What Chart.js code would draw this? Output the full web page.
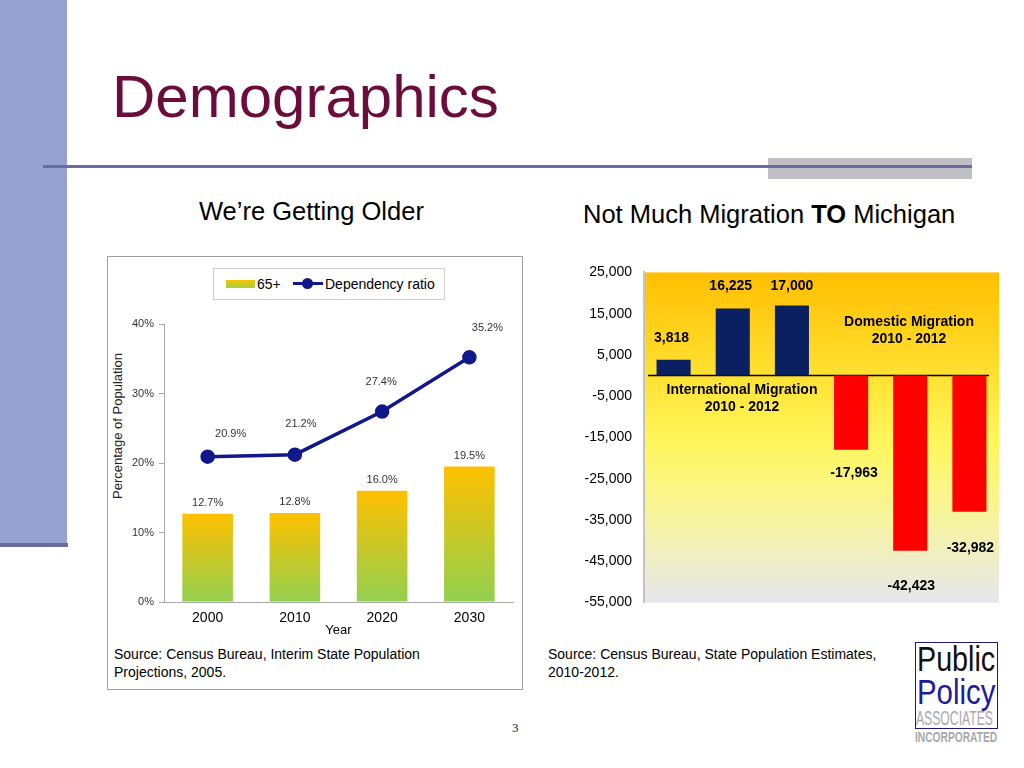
<!DOCTYPE html>
<html>
<head>
<meta charset="utf-8">
<script src="https://cdn.jsdelivr.net/npm/chart.js@4.4.0/dist/chart.umd.min.js"></script>
<style>
  body { margin:0; width:1024px; height:768px; position:relative; overflow:hidden; background:#fff;
         font-family:"Liberation Sans", Arial, sans-serif; color:#000; }
  .abs { position:absolute; }
  .sub { font-size:25.5px; line-height:25px; white-space:nowrap; }
  .src { font-size:14px; line-height:17.5px; }
  .note { font-size:14px; font-weight:bold; line-height:16.5px; text-align:center; white-space:nowrap; }
  .logo span { position:absolute; white-space:nowrap; transform-origin:0 0; }
</style>
</head>
<body>
<!-- slide decoration -->
<div class="abs" style="left:0;top:0;width:67px;height:544px;background:#98a2d0"></div>
<div class="abs" style="left:0;top:543px;width:68px;height:4px;background:#6a6b9f"></div>
<div class="abs" style="left:768px;top:158px;width:204px;height:21px;background:#bfbfc5"></div>
<div class="abs" style="left:43px;top:165px;width:929px;height:3px;background:#6b6c9e"></div>

<div class="abs" style="left:112px;top:67px;font-size:60px;line-height:60px;color:#6a0d3b">Demographics</div>

<div class="abs sub" style="left:199px;top:199px">We’re Getting Older</div>
<div class="abs sub" style="left:583px;top:202px">Not Much Migration <b>TO</b> Michigan</div>

<!-- left chart box -->
<div class="abs" style="left:107px;top:256px;width:414px;height:432px;border:1.5px solid #a0a0a0"></div>
<div class="abs" style="left:213px;top:268px;width:230px;height:30px;border:1px solid #cfcfcf"></div>
<div class="abs" style="left:226px;top:280px;width:29px;height:8px;background:linear-gradient(#f5c400,#a6cf45)"></div>
<div class="abs" style="left:257px;top:276px;font-size:14px;line-height:16px">65+</div>
<div class="abs" style="left:293px;top:282px;width:30px;height:3px;background:#10188c"></div>
<div class="abs" style="left:302px;top:278px;width:11px;height:11px;border-radius:50%;background:#10188c"></div>
<div class="abs" style="left:325px;top:276px;font-size:14px;line-height:16px">Dependency ratio</div>
<div class="abs" style="left:118px;top:426px;width:0;height:0">
  <div style="position:absolute;left:-100px;top:-8px;width:200px;text-align:center;font-size:13px;line-height:16px;color:#222;transform:rotate(-90deg)">Percentage of Population</div>
</div>
<canvas id="ageChart" class="abs" style="left:108px;top:305px"></canvas>
<div class="abs src" style="left:114px;top:646px">Source: Census Bureau, Interim State Population<br>Projections, 2005.</div>

<!-- right chart -->
<canvas id="migChart" class="abs" style="left:540px;top:252px"></canvas>
<div class="abs note" style="left:909px;top:313px;width:0"><div style="position:absolute;left:-100px;width:200px">Domestic Migration<br>2010 - 2012</div></div>
<div class="abs note" style="left:742px;top:381px;width:0"><div style="position:absolute;left:-100px;width:200px">International Migration<br>2010 - 2012</div></div>
<div class="abs src" style="left:548px;top:646px">Source: Census Bureau, State Population Estimates,<br>2010-2012.</div>

<div class="abs" style="left:512px;top:720px;font-family:'Liberation Serif',serif;font-size:13px;color:#222">3</div>

<!-- logo -->
<div class="abs logo" style="left:915px;top:642px;width:81px;height:85px;border:1.5px solid #1b1b7a">
  <span style="left:1px;top:-2px;font-size:35px;line-height:35px;color:#111;transform:scaleX(0.82)">Public</span>
  <span style="left:1px;top:31px;font-size:35px;line-height:35px;color:#1c1c9c;transform:scaleX(0.84)">Policy</span>
  <span style="left:0px;top:64px;font-size:21px;line-height:21px;color:#a8a8ac;transform:scaleX(0.58)">ASSOCIATES</span>
</div>
<div class="abs logo" style="left:915px;top:730px;width:84px;height:14px">
  <span style="left:0;top:0;font-size:14px;line-height:14px;font-weight:bold;color:#a8a8ac;transform:scaleX(0.73)">INCORPORATED</span>
</div>

<script>
// ---- data ----
const years = ['2000', '2010', '2020', '2030'];
const share65 = [12.7, 12.8, 16.0, 19.5];
const dependencyRatio = [20.9, 21.2, 27.4, 35.2];
const ageTicks = [0, 10, 20, 30, 40];

const migrationCats = ['Int 2010', 'Int 2011', 'Int 2012', 'Dom 2010', 'Dom 2011', 'Dom 2012'];
const migrationVals = [3818, 16225, 17000, -17963, -42423, -32982];
const migrationTicks = [25000, 15000, 5000, -5000, -15000, -25000, -35000, -45000, -55000];

Chart.defaults.font.family = '"Liberation Sans", Arial, sans-serif';
Chart.defaults.animation = false;

// label nudges (style only)
const lineLabelDx = [23, 6, -1, 18];
const lineLabelDy = [-23, -31, -30, -29];
const migLabelDx = [-2, -2, 0, 3, 1, 1];
const migLabelDy = [-22, -22, -19, 23, 35, 36];

const ageCanvas = document.getElementById('ageChart');
ageCanvas.width = 414; ageCanvas.height = 335;

const ageLabels = {
  id: 'ageLabels',
  afterDatasetsDraw(chart) {
    const ctx = chart.ctx;
    ctx.save();
    ctx.font = '11px "Liberation Sans", Arial';
    ctx.fillStyle = '#333';
    ctx.textAlign = 'center';
    ctx.textBaseline = 'middle';
    chart.getDatasetMeta(1).data.forEach((el, i) => {
      ctx.fillText(share65[i].toFixed(1) + '%', el.x, el.y - 11);
    });
    chart.getDatasetMeta(0).data.forEach((el, i) => {
      ctx.fillText(dependencyRatio[i].toFixed(1) + '%', el.x + lineLabelDx[i], el.y + lineLabelDy[i]);
    });
    ctx.restore();
  }
};

new Chart(ageCanvas, {
  data: {
    labels: years,
    datasets: [{
      type: 'line',
      label: 'Dependency ratio',
      data: dependencyRatio,
      borderColor: '#10188c',
      backgroundColor: '#10188c',
      borderWidth: 3.5,
      pointRadius: 5.5,
      pointBackgroundColor: '#10188c',
      tension: 0,
      order: 0
    }, {
      type: 'bar',
      label: '65+',
      data: share65,
      order: 1,
      barPercentage: 0.58,
      categoryPercentage: 1,
      backgroundColor: (c) => {
        const y = c.chart.scales.y;
        if (!y || c.raw == null || !c.chart.chartArea) return '#f5c400';
        const g = c.chart.ctx.createLinearGradient(0, y.getPixelForValue(c.raw), 0, y.getPixelForValue(0));
        g.addColorStop(0, '#ffc000');
        g.addColorStop(1, '#92d050');
        return g;
      }
    }]
  },
  options: {
    responsive: false,
    layout: { padding: { left: 0, right: 6, top: 19, bottom: 0 } },
    plugins: { legend: { display: false }, tooltip: { enabled: false } },
    scales: {
      x: {
        grid: { drawOnChartArea: false, drawTicks: false },
        border: { display: true, color: '#a8a8a8' },
        ticks: { color: '#000', font: { size: 14 }, padding: 8 },
        title: { display: true, text: 'Year', color: '#000', font: { size: 13 }, padding: { top: 0, bottom: 1.5 } },
        afterFit: (s) => { s.height = 38; }
      },
      y: {
        min: 0, max: 40,
        afterBuildTicks: (s) => { s.ticks = ageTicks.map(v => ({ value: v })); },
        grid: { drawOnChartArea: false, drawTicks: true, tickLength: 5, color: '#a8a8a8' },
        border: { display: true, color: '#a8a8a8' },
        ticks: { color: '#333', font: { size: 11 }, padding: 5, callback: (v) => v + '%' },
        afterFit: (s) => { s.width = 56; }
      }
    }
  },
  plugins: [ageLabels]
});

const migCanvas = document.getElementById('migChart');
migCanvas.width = 470; migCanvas.height = 371;

const migBackdrop = {
  id: 'migBackdrop',
  beforeDraw(chart) {
    const { ctx, chartArea: a } = chart;
    const g = ctx.createLinearGradient(0, a.top, 0, a.bottom);
    g.addColorStop(0, '#ffbe00');
    g.addColorStop(0.3, '#ffe030');
    g.addColorStop(0.52, '#fff75e');
    g.addColorStop(0.75, '#f6f4a0');
    g.addColorStop(1, '#e6e7ee');
    ctx.save();
    ctx.fillStyle = g;
    ctx.fillRect(a.left, a.top, a.right - a.left, a.bottom - a.top);
    ctx.restore();
  },
  beforeDatasetsDraw(chart) {
    const { ctx, chartArea: a } = chart;
    const y0 = chart.scales.y.getPixelForValue(0);
    ctx.save();
    ctx.strokeStyle = '#000';
    ctx.lineWidth = 1.5;
    ctx.beginPath();
    ctx.moveTo(a.left + 4, y0);
    ctx.lineTo(a.right - 10, y0);
    ctx.stroke();
    ctx.restore();
  },
  afterDatasetsDraw(chart) {
    const ctx = chart.ctx;
    ctx.save();
    ctx.font = 'bold 14px "Liberation Sans", Arial';
    ctx.fillStyle = '#000';
    ctx.textAlign = 'center';
    ctx.textBaseline = 'middle';
    chart.getDatasetMeta(0).data.forEach((el, i) => {
      ctx.fillText(migrationVals[i].toLocaleString('en-US'), el.x + migLabelDx[i], el.y + migLabelDy[i]);
    });
    ctx.restore();
  }
};

new Chart(migCanvas, {
  type: 'bar',
  data: {
    labels: migrationCats,
    datasets: [{
      label: 'Net migration',
      data: migrationVals,
      backgroundColor: migrationVals.map(v => v >= 0 ? '#0a2060' : '#ff0000'),
      barPercentage: 0.576,
      categoryPercentage: 1
    }]
  },
  options: {
    responsive: false,
    layout: { padding: { left: 0, right: 11, top: 12, bottom: 13 } },
    plugins: { legend: { display: false }, tooltip: { enabled: false } },
    scales: {
      x: { display: false },
      y: {
        min: -55000, max: 25000,
        afterBuildTicks: (s) => { s.ticks = migrationTicks.map(v => ({ value: v })); },
        grid: { drawOnChartArea: false, drawTicks: false },
        border: { display: true, color: '#c4c4c4', width: 2 },
        ticks: { color: '#000', font: { size: 14 }, padding: 12, callback: (v) => v.toLocaleString('en-US') },
        afterFit: (s) => { s.width = 104; }
      }
    }
  },
  plugins: [migBackdrop]
});
</script>
</body>
</html>
